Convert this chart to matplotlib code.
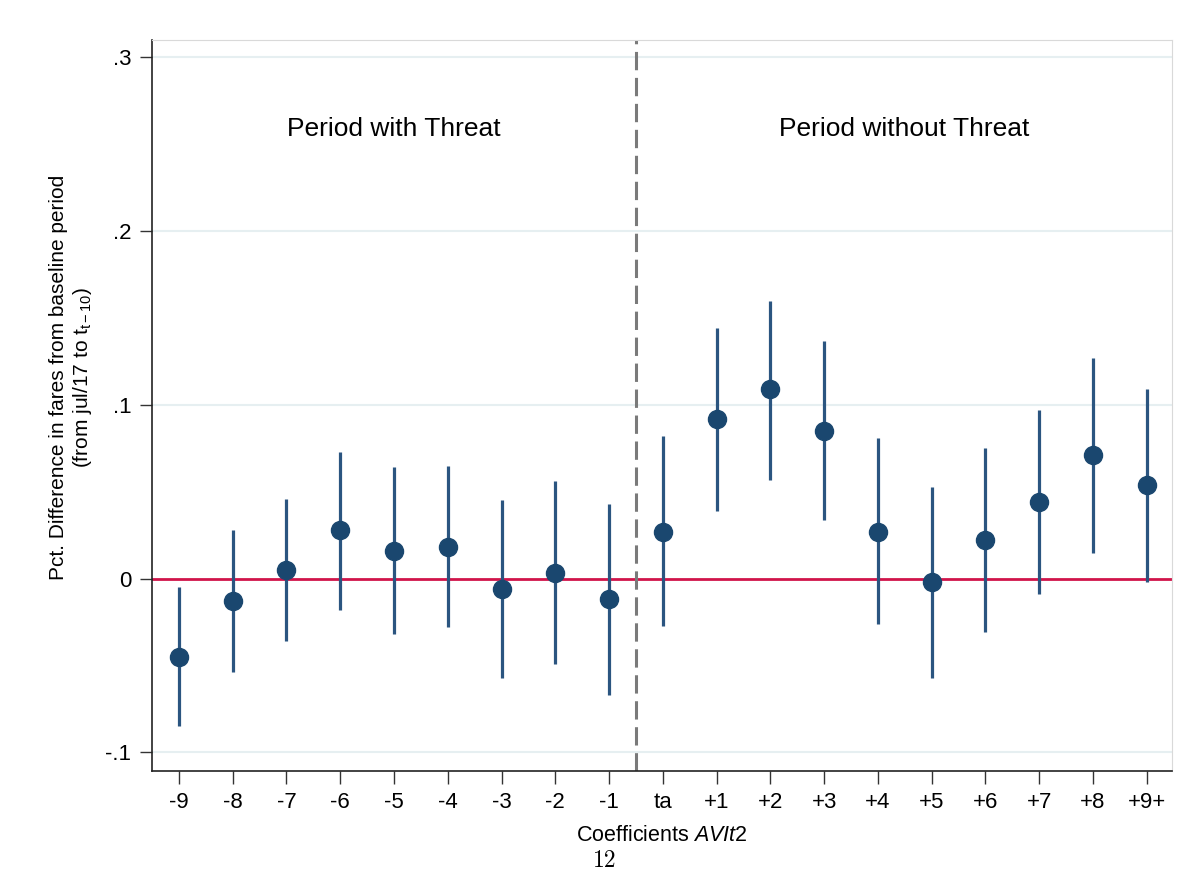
import numpy as np
import matplotlib
matplotlib.use('agg')
import matplotlib.pyplot as plt

# coefficient labels and estimates
labels = ['-9', '-8', '-7', '-6', '-5', '-4', '-3', '-2', '-1', 'ta',
          '+1', '+2', '+3', '+4', '+5', '+6', '+7', '+8', '+9+']
coef = [-0.045, -0.013, 0.005, 0.028, 0.016, 0.018, -0.006, 0.003, -0.012, 0.027,
        0.092, 0.109, 0.085, 0.027, -0.002, 0.022, 0.044, 0.071, 0.054]
ci_lo = [-0.085, -0.054, -0.036, -0.018, -0.032, -0.028, -0.057, -0.049, -0.067, -0.027,
         0.039, 0.057, 0.034, -0.026, -0.057, -0.031, -0.009, 0.015, -0.002]
ci_hi = [-0.005, 0.028, 0.046, 0.073, 0.064, 0.065, 0.045, 0.056, 0.043, 0.082,
         0.144, 0.160, 0.137, 0.081, 0.053, 0.075, 0.097, 0.127, 0.109]
yticks = [-0.1, 0, 0.1, 0.2, 0.3]
ytick_labels = ['-.1', '0', '.1', '.2', '.3']

plt.rcParams['font.family'] = ['Liberation Sans', 'DejaVu Sans']
plt.rcParams['mathtext.fontset'] = 'custom'
plt.rcParams['mathtext.rm'] = 'Liberation Sans'
plt.rcParams['mathtext.it'] = 'Liberation Sans:italic'

navy = '#1a476f'
x = np.arange(len(labels))

fig = plt.figure(figsize=(11.99, 8.77), dpi=100)
ax = fig.add_axes([0.1268, 0.1209, 0.8507, 0.8335])

for yv in [-0.1, 0.1, 0.2, 0.3]:
    ax.axhline(yv, color='#e6eff1', lw=1.5, zorder=0)
ax.axhline(0, color='#d0144a', lw=2, zorder=1)
ax.axvline(8.5, color='#7a7a7a', lw=2.2, ls=(0, (6, 2.5)), zorder=1)

ax.vlines(x, ci_lo, ci_hi, color='#2b5580', lw=2.3, zorder=2)
ax.plot(x, coef, 'o', color=navy, ms=13, zorder=3)

ax.text(4, 0.259, 'Period with Threat', ha='center', va='center', fontsize=19)
ax.text(13.48, 0.259, 'Period without Threat', ha='center', va='center', fontsize=19)

ax.set_xlim(-0.5, 18.47)
ax.set_ylim(-0.1107, 0.31)
ax.set_xticks(x)
ax.set_xticklabels(labels, fontsize=16)
ax.set_yticks(yticks)
ax.set_yticklabels(ytick_labels, fontsize=16)
ax.tick_params(axis='both', length=9, width=1, color='#333333', pad=6)

for s in ['top', 'right']:
    ax.spines[s].set_color('#d9d9d9')
for s in ['left', 'bottom']:
    ax.spines[s].set_color('#222222')
    ax.spines[s].set_linewidth(1.2)

ax.set_xlabel(r'Coefficients $\mathit{AVIt2}$', fontsize=15.5, labelpad=9)
ax.set_ylabel('Pct. Difference in fares from baseline period\n'
              r'(from jul/17 to t$_{\mathrm{t-10}}$)', fontsize=15, labelpad=8)
ax.yaxis.label.set_y(0.539)

fig.text(0.504, 0.006, '12', ha='center', va='bottom', fontsize=17,
         family='cmr10')

fig.savefig('out.png', dpi=100)
